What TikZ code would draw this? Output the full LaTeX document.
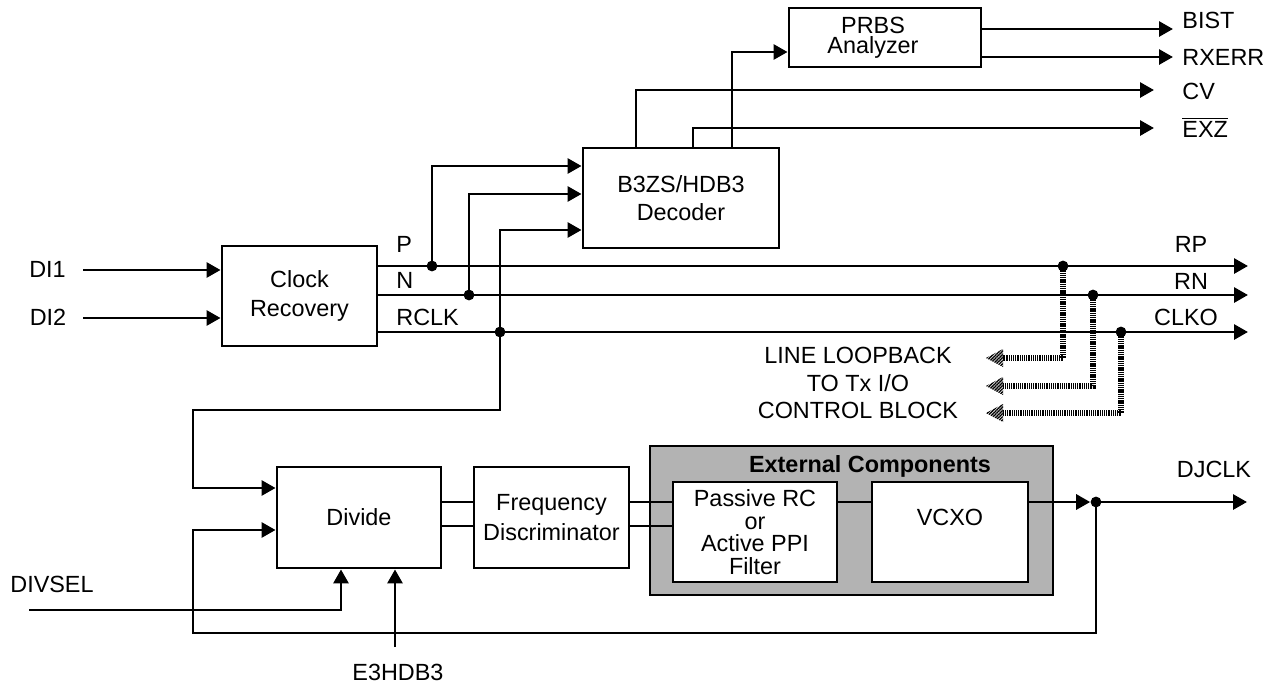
\documentclass[tikz,border=0pt]{standalone}
\usepackage{fontspec}
\setmainfont{Liberation Sans}
\usetikzlibrary{arrows.meta,patterns.meta}
\definecolor{extgray}{RGB}{179,179,179}
\begin{document}
\begin{tikzpicture}[x=0.5pt,y=-0.5pt,
  wire/.style={line width=1.45pt},
  arr/.style={wire,-{Triangle[length=7pt,width=7.5pt]}},
  box/.style={draw,line width=1.45pt,rectangle,inner sep=0pt,font=\fontsize{11.7}{14}\selectfont,align=center},
  dot/.style={circle,fill,inner sep=0pt,minimum size=5.4pt},
  lbl/.style={inner sep=0pt,font=\fontsize{11.7}{14}\selectfont},
  hatch/.style={line width=2.8pt,dash pattern=on 0.65pt off 0.45pt},
  hatchhead/.style={pattern={Lines[angle=45,distance=1.1pt,line width=0.7pt]}},
  extbox/.style={draw,line width=1.45pt,fill=extgray,inner sep=0pt}
]
\useasboundingbox (0,0) rectangle (1275,685);

% ---------- boxes ----------
\node[box,minimum width=77.5pt,minimum height=50pt,font=\fontsize{11.7}{14.5}\selectfont] (clock) at (299.5,296) {Clock\\Recovery};
\node[box,minimum width=98pt,minimum height=50pt,font=\fontsize{11.7}{13.8}\selectfont] (dec) at (681,198) {B3ZS/HDB3\\Decoder};
\node[box,minimum width=96pt,minimum height=29.5pt] (prbs) at (885,37.5) {};
\node[lbl,anchor=base] (prbst1) at (873,33) {PRBS};
\node[lbl,anchor=base] (prbst2) at (873,54) {Analyzer};
\node[box,minimum width=82pt,minimum height=50.5pt] (divide) at (359,517.5) {Divide};
\node[box,minimum width=77.5pt,minimum height=50.5pt,font=\fontsize{11.7}{15}\selectfont] (freq) at (551.5,517.5) {Frequency\\Discriminator};
\node[extbox,minimum width=201.5pt,minimum height=74.5pt] (ext) at (851.5,520.5) {};
\node[lbl,font=\fontsize{11.7}{14}\selectfont\bfseries,anchor=base] (extt) at (870,472) {External Components};
\node[box,fill=white,minimum width=82pt,minimum height=50pt,font=\fontsize{11.7}{11.3}\selectfont] (pass) at (755,532) {Passive RC\\or\\Active PPI\\Filter};
\node[box,fill=white,minimum width=78pt,minimum height=50pt] (vcxo) at (950,532) {};
\node[lbl] (vcxot) at (950,517) {VCXO};

% ---------- junction dots ----------
\node[dot] (jp) at (432,266) {};
\node[dot] (jn) at (469,295) {};
\node[dot] (jr) at (500,332) {};
\node[dot] (lp) at (1063,266) {};
\node[dot] (ln) at (1093,295) {};
\node[dot] (lr) at (1121,332) {};
\node[dot] (jd) at (1096,502) {};

% ---------- helper coordinates ----------
\coordinate (di1S) at (83,270);
\coordinate (di2S) at (83,318);
\coordinate (rpE) at (1248,266);
\coordinate (rnE) at (1248,295);
\coordinate (ckE) at (1248,332);
\coordinate (yd1) at (0,166);
\coordinate (yd2) at (0,194);
\coordinate (yd3) at (0,230);
\coordinate (cvx) at (636,0);
\coordinate (exx) at (693,0);
\coordinate (prx) at (732,0);
\coordinate (cvE) at (1154,90);
\coordinate (exE) at (1154,128);
\coordinate (yPr) at (0,52);
\coordinate (yBi) at (0,29);
\coordinate (yRx) at (0,57);
\coordinate (biE) at (1173,29);
\coordinate (rxE) at (1173,57);
\coordinate (fbB) at (193,410);
\coordinate (fbC) at (193,488);
\coordinate (lpC) at (193,633);
\coordinate (lpD) at (193,530);
\coordinate (dsS) at (29,610);
\coordinate (dsX) at (341,0);
\coordinate (e3S) at (395,647);
\coordinate (yA) at (0,502);
\coordinate (yB) at (0,526);
\coordinate (djE) at (1247,502);
\coordinate (hb1) at (1003,358);
\coordinate (hb2) at (1003,386);
\coordinate (hb3) at (1003,413);

% ---------- connectors ----------
\draw[arr] (di1S) -- (clock.west |- di1S);
\draw[arr] (di2S) -- (clock.west |- di2S);
\draw[arr] (jp -| clock.east) -- (rpE);
\draw[arr] (jn -| clock.east) -- (rnE);
\draw[arr] (jr -| clock.east) -- (ckE);
\draw[arr] (jp.center) |- (dec.west |- yd1);
\draw[arr] (jn.center) |- (dec.west |- yd2);
\draw[arr] (jr.center) |- (dec.west |- yd3);
\draw[arr] (dec.north -| cvx) |- (cvE);
\draw[arr] (dec.north -| exx) |- (exE);
\draw[arr] (dec.north -| prx) |- (prbs.west |- yPr);
\draw[arr] (prbs.east |- yBi) -- (biE);
\draw[arr] (prbs.east |- yRx) -- (rxE);
\draw[arr] (jr.center) |- (fbB) -- (fbC) -- (divide.west |- fbC);
\draw[arr] (jd.center) |- (lpC) -- (lpD) -- (divide.west |- lpD);
\draw[arr] (dsS) -| (divide.south -| dsX);
\draw[arr] (e3S) -- (divide.south -| e3S);
\draw[wire] (divide.east |- yA) -- (freq.west |- yA);
\draw[wire] (divide.east |- yB) -- (freq.west |- yB);
\draw[wire] (freq.east |- yA) -- (pass.west |- yA);
\draw[wire] (freq.east |- yB) -- (pass.west |- yB);
\draw[wire] (pass.east |- yA) -- (vcxo.west |- yA);
\draw[arr] (vcxo.east |- jd) -- (jd.west);
\draw[arr] (jd.center) -- (djE);

% hatched loopback connectors
\draw[hatch] (lp.center) |- (hb1);
\draw[hatch] (ln.center) |- (hb2);
\draw[hatch] (lr.center) |- (hb3);
\fill[hatchhead] (hb1) ++(0,-9) -- ++(-17,9) -- ++(17,9) -- cycle;
\fill[hatchhead] (hb2) ++(0,-9) -- ++(-17,9) -- ++(17,9) -- cycle;
\fill[hatchhead] (hb3) ++(0,-9) -- ++(-17,9) -- ++(17,9) -- cycle;

% ---------- labels ----------
\node[lbl,anchor=base] (tdi1) at (47.5,277) {DI1};
\node[lbl,anchor=base] (tdi2) at (48,325) {DI2};
\node[lbl,anchor=base west] (tp) at (396,252) {P};
\node[lbl,anchor=base west] (tn) at (396,288) {N};
\node[lbl,anchor=base west] (trclk) at (396,325) {RCLK};
\node[lbl,anchor=base] (trp) at (1191,252) {RP};
\node[lbl,anchor=base] (trn) at (1191,289) {RN};
\node[lbl,anchor=base] (tclko) at (1186,325) {CLKO};
\node[lbl,anchor=base west] (tbist) at (1182,28) {BIST};
\node[lbl,anchor=base west] (trxerr) at (1182,65) {RXERR};
\node[lbl,anchor=base west] (tcv) at (1182,99) {CV};
\node[lbl,anchor=base west] (texz) at (1182,137) {$\overline{\hbox{EXZ}}$};
\node[lbl,anchor=base] (tll1) at (858,363) {LINE LOOPBACK};
\node[lbl,anchor=base] (tll2) at (858,391) {TO Tx I/O};
\node[lbl,anchor=base] (tll3) at (858,418) {CONTROL BLOCK};
\node[lbl,anchor=base] (tdj) at (1214,477) {DJCLK};
\node[lbl,anchor=base] (tdiv) at (52,592) {DIVSEL};
\node[lbl,anchor=base] (te3) at (398,680) {E3HDB3};
\end{tikzpicture}
\end{document}
